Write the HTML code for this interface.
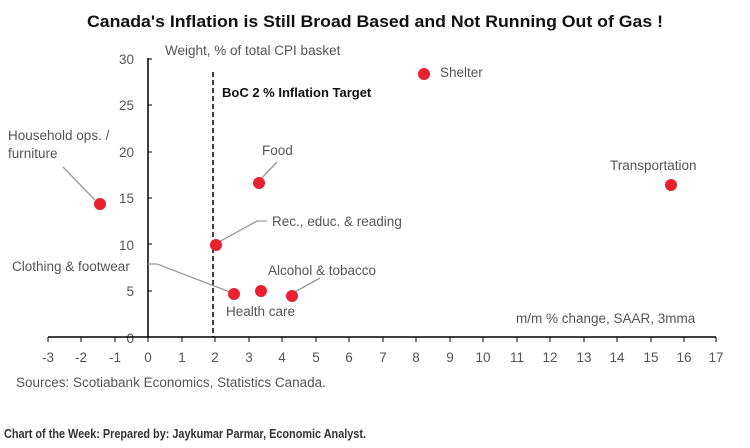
<!DOCTYPE html>
<html><head><meta charset="utf-8"><style>
body{margin:0;background:#fff;width:750px;height:443px;overflow:hidden}
svg text{font-family:"Liberation Sans",sans-serif}
</style></head><body>
<svg width="750" height="443" xmlns="http://www.w3.org/2000/svg">
<text x="375" y="27" text-anchor="middle" font-size="16.5" font-weight="bold" fill="#111" textLength="576" lengthAdjust="spacingAndGlyphs">Canada's Inflation is Still Broad Based and Not Running Out of Gas !</text>
<g fill="#555" font-size="13.5">
<text x="165" y="55">Weight, % of total CPI basket</text>
<g text-anchor="end">
<text x="134" y="64">30</text><text x="134" y="110">25</text><text x="134" y="157">20</text>
<text x="134" y="203">15</text><text x="134" y="250">10</text><text x="134" y="296">5</text><text x="134" y="343">0</text>
</g>
<g text-anchor="middle">
<text x="48" y="362">-3</text><text x="81" y="362">-2</text><text x="115" y="362">-1</text><text x="148" y="362">0</text>
<text x="182" y="362">1</text><text x="215" y="362">2</text><text x="249" y="362">3</text><text x="282" y="362">4</text>
<text x="316" y="362">5</text><text x="349" y="362">6</text><text x="383" y="362">7</text><text x="416" y="362">8</text>
<text x="450" y="362">9</text><text x="483" y="362">10</text><text x="517" y="362">11</text><text x="550" y="362">12</text>
<text x="584" y="362">13</text><text x="617" y="362">14</text><text x="651" y="362">15</text><text x="684" y="362">16</text><text x="716" y="362">17</text>
</g>
<text x="440" y="77">Shelter</text>
<text x="610" y="170">Transportation</text>
<text x="8" y="140">Household ops. /</text>
<text x="8" y="158">furniture</text>
<text x="262" y="155">Food</text>
<text x="272" y="226">Rec., educ. &amp; reading</text>
<text x="12" y="271">Clothing &amp; footwear</text>
<text x="268" y="275">Alcohol &amp; tobacco</text>
<text x="226" y="316">Health care</text>
<text x="516" y="323">m/m % change, SAAR, 3mma</text>
<text x="16" y="387">Sources: Scotiabank Economics, Statistics Canada.</text>
</g>
<text x="222" y="97" font-size="13" font-weight="bold" fill="#111">BoC 2 % Inflation Target</text>
<text x="4" y="438" font-size="12.5" font-weight="bold" fill="#333" textLength="362" lengthAdjust="spacingAndGlyphs">Chart of the Week: Prepared by: Jaykumar Parmar, Economic Analyst.</text>
<g stroke="#000" stroke-width="1.5">
<line x1="148" y1="58" x2="148" y2="337"/>
<line x1="48" y1="337" x2="716" y2="337"/>
</g>
<g stroke="#000" stroke-width="1">
<path d="M148 59h4M148 105h4M148 152h4M148 198h4M148 244h4M148 291h4"/>
<path d="M48 337v5M81 337v5M115 337v5M148 337v5M182 337v5M215 337v5M249 337v5M282 337v5M316 337v5M349 337v5M383 337v5M416 337v5M450 337v5M483 337v5M517 337v5M550 337v5M584 337v5M617 337v5M651 337v5M684 337v5M716 337v5"/>
</g>
<line x1="213" y1="72" x2="213" y2="337" stroke="#000" stroke-width="1.5" stroke-dasharray="5,3"/>
<g stroke="#999" stroke-width="1.3" fill="none">
<path d="M63 167L95 200"/>
<path d="M277 162L260 180"/>
<path d="M267 221H257L217 243"/>
<path d="M148 264H157L230 292"/>
<path d="M320 278L293 293"/>
</g>
<g fill="#e8202f">
<circle cx="424" cy="74" r="6"/>
<circle cx="671" cy="185" r="6"/>
<circle cx="100" cy="204" r="6"/>
<circle cx="259" cy="183" r="6"/>
<circle cx="216" cy="245" r="6"/>
<circle cx="234" cy="294" r="6"/>
<circle cx="261" cy="291" r="6"/>
<circle cx="292" cy="296" r="6"/>
</g>
</svg>
</body></html>
